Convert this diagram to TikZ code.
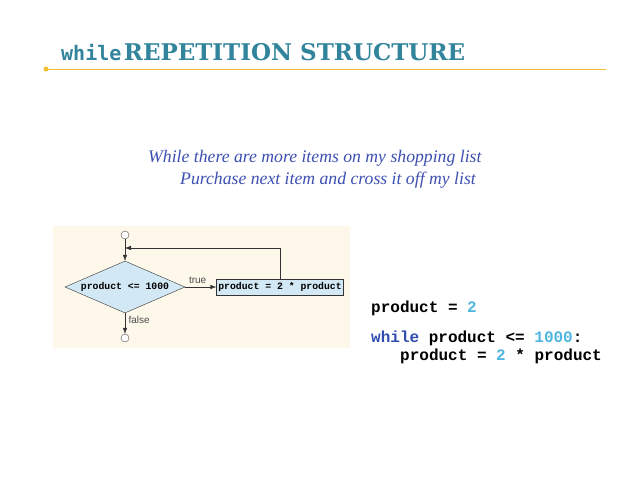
\documentclass[tikz,border=0pt]{standalone}
\usepackage{fontspec}
\setmainfont{Liberation Serif}
\setsansfont{Liberation Sans}
\setmonofont{Liberation Mono}
\newfontfamily\titlemono{DejaVu Sans Mono}
\newfontfamily\titleserif{DejaVu Serif}
\usetikzlibrary{shapes.geometric,arrows.meta}
\definecolor{titleteal}{HTML}{31849B}
\definecolor{ruleyellow}{HTML}{F0C030}
\definecolor{ital}{HTML}{3C4FB0}
\definecolor{beige}{HTML}{FDF8EA}
\definecolor{boxblue}{HTML}{D2E8F4}
\definecolor{num}{HTML}{4FB6E0}
\definecolor{kw}{HTML}{2F4CB0}
\tikzset{
  flow/.style={draw=black!80,fill=boxblue,font=\ttfamily\bfseries\fontsize{9.8}{10}\selectfont},
  term/.style={draw=black!70,fill=white,circle,inner sep=0pt,minimum size=8pt},
  arr/.style={-{Latex[length=6pt,width=4.5pt]},black!80},
  lbl/.style={font=\sffamily\fontsize{10}{10}\selectfont,text=black!70},
  code/.style={anchor=base west,inner sep=0pt,font=\ttfamily\bfseries\fontsize{16}{17}\selectfont}
}
\begin{document}
\begin{tikzpicture}[x=1pt,y=-1pt]
\useasboundingbox (0,0) rectangle (638,479);
% title
\node[anchor=base west,inner sep=0pt,text=titleteal] (title) at (61,60) {{\titlemono\bfseries\fontsize{20}{22}\selectfont while} {\titleserif\bfseries\fontsize{23}{24}\selectfont REPETITION STRUCTURE}};
\coordinate (r1) at (46,69);\coordinate (r2) at (606,69);
\draw[ruleyellow,line width=1pt] (r1)--(r2);
\fill[ruleyellow] (r1) circle (2.5pt);
% pseudocode
\node[anchor=base west,inner sep=0pt,text=ital,font=\itshape\fontsize{17.7}{19}\selectfont] (p1) at (148,162) {While there are more items on my shopping list};
\node[anchor=base west,inner sep=0pt,text=ital,font=\itshape\fontsize{17.7}{19}\selectfont] (p2) at (180,184) {Purchase next item and cross it off my list};
% flowchart
\fill[beige] (53,226) rectangle (350,348);
\node[term] (start) at (125,235) {};
\node[flow,diamond,aspect=2.4,inner sep=0.5pt,minimum width=120pt,minimum height=52pt] (test) at (125,287) {product <= 1000};
\node[flow,minimum width=127pt,minimum height=16pt,inner sep=1pt] (body) at (280,287) {product = 2 * product};
\node[term] (stop) at (125,338) {};
\coordinate (back) at (280,248);\coordinate (join) at (125,248);
\draw[arr] (start)--(test);
\draw[arr] (test)--node[above,lbl,pos=0.4]{true}(body);
\draw[arr] (body.north-|back)--(back)--(join);
\draw[arr] (test)--node[right,lbl,pos=0.35]{false}(stop);
% code
\node[code] (c1) at (371,312) {product = \textcolor{num}{2}};
\node[code] (c2) at (371,342) {\textcolor{kw}{while} product <= \textcolor{num}{1000}:};
\node[code] (c3) at (400,360) {product = \textcolor{num}{2} * product};
\end{tikzpicture}
\end{document}
